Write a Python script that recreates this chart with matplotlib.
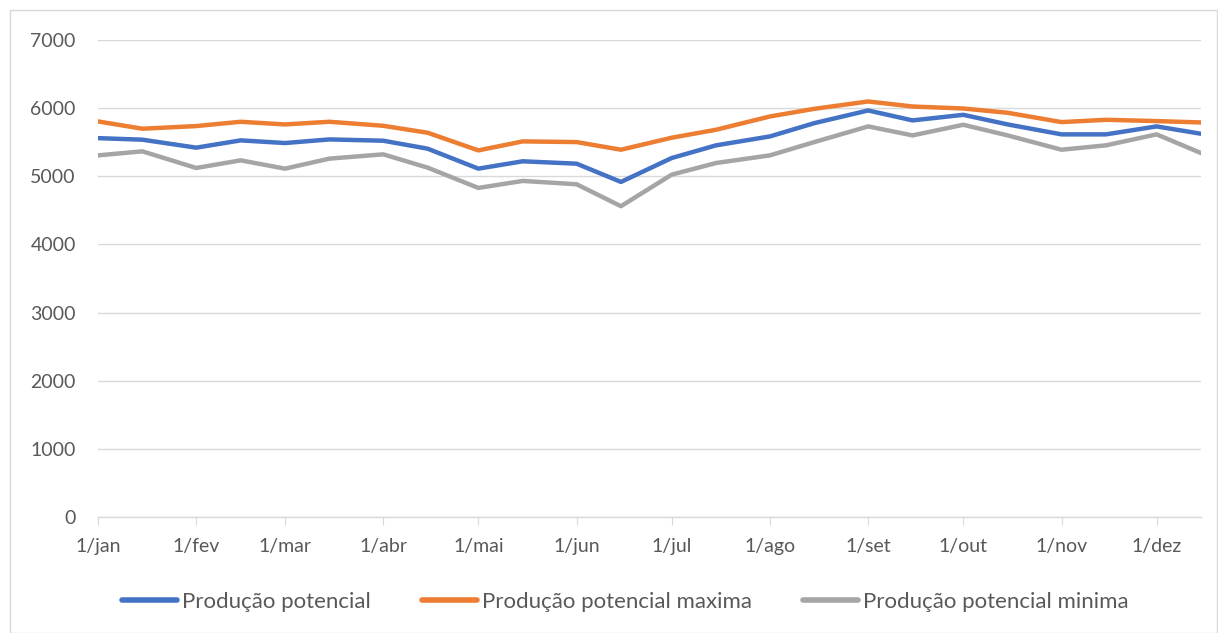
import numpy as np
import pandas as pd
import matplotlib
matplotlib.use("Agg")
import matplotlib.pyplot as plt
from matplotlib.patches import Rectangle

plt.rcParams['font.family'] = ['Lato', 'DejaVu Sans']

# semi-monthly dates (1st and 15th)
datas = ["2021-01-01", "2021-01-15", "2021-02-01", "2021-02-15", "2021-03-01", "2021-03-15",
         "2021-04-01", "2021-04-15", "2021-05-01", "2021-05-15", "2021-06-01", "2021-06-15",
         "2021-07-01", "2021-07-15", "2021-08-01", "2021-08-15", "2021-09-01", "2021-09-15",
         "2021-10-01", "2021-10-15", "2021-11-01", "2021-11-15", "2021-12-01", "2021-12-15"]

prod_potencial = [5560, 5537, 5420, 5527, 5488, 5541, 5522, 5405, 5112, 5220, 5185, 4917,
                  5268, 5454, 5585, 5780, 5966, 5820, 5902, 5761, 5615, 5615, 5732, 5624]
prod_maxima = [5805, 5698, 5737, 5800, 5761, 5800, 5741, 5639, 5380, 5512, 5502, 5390,
               5566, 5683, 5878, 5990, 6098, 6024, 5995, 5932, 5795, 5829, 5810, 5790]
prod_minima = [5307, 5366, 5122, 5234, 5112, 5259, 5322, 5127, 4829, 4932, 4883, 4561,
               5024, 5195, 5307, 5502, 5732, 5600, 5756, 5600, 5390, 5454, 5615, 5341]

meses = ["jan", "fev", "mar", "abr", "mai", "jun", "jul", "ago", "set", "out", "nov", "dez"]

x = pd.to_datetime(datas)
W, H = 1218, 633
fig = plt.figure(figsize=(W / 100, H / 100), dpi=100)
ax = fig.add_axes([98 / W, 1 - 517 / H, (1201 - 98) / W, (517 - 40) / H])

ax.plot(x, prod_potencial, color="#4472C4", lw=3.2, solid_capstyle="round", label="Produção potencial", zorder=3)
ax.plot(x, prod_maxima, color="#ED7D31", lw=3.2, solid_capstyle="round", label="Produção potencial maxima", zorder=3)
ax.plot(x, prod_minima, color="#A5A5A5", lw=3.2, solid_capstyle="round", label="Produção potencial minima", zorder=3)

ax.set_xlim(x[0], x[-1])
ax.set_ylim(0, 7000)
ax.set_yticks(np.arange(0, 7001, 1000))
ax.yaxis.grid(True, color="#D9D9D9", lw=1)
ax.set_axisbelow(True)

mticks = pd.date_range("2021-01-01", "2021-12-01", freq="MS")
ax.set_xticks(mticks)
ax.set_xticklabels([f"1/{m}" for m in meses])

for s in ["top", "right", "left"]:
    ax.spines[s].set_visible(False)
ax.spines["bottom"].set_color("#D9D9D9")
ax.spines["bottom"].set_linewidth(1)
ax.tick_params(axis="x", direction="out", length=6, color="#D9D9D9", labelsize=14,
               labelcolor="#595959", pad=9)
ax.tick_params(axis="y", length=0, labelsize=14, labelcolor="#595959", pad=16)

leg = fig.legend(loc="center", bbox_to_anchor=(625 / W, 1 - 602 / H), ncol=3, frameon=False,
                 fontsize=16, handlelength=2.5, handletextpad=0.2, columnspacing=2.3)
for t in leg.get_texts():
    t.set_color("#595959")
for h in leg.get_lines():
    h.set_linewidth(4)

# chart area border
fig.patches.append(Rectangle((10 / W, 0), (W - 11) / W, 1 - 10 / H, transform=fig.transFigure,
                             fill=False, edgecolor="#D9D9D9", lw=1))

fig.savefig("out.png", dpi=100)
